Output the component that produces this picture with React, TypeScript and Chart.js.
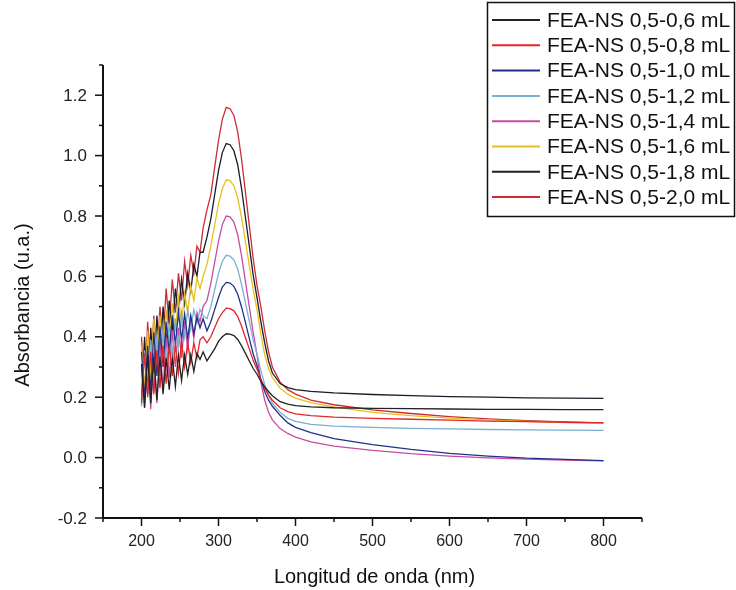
import React, { useEffect, useRef } from "react";
import { Chart, registerables } from "chart.js";

Chart.register(...registerables);

// Wavelength sampling (nm)
const WAVELENGTH = [
  200, 204, 208, 212, 216, 220, 224, 228, 232, 236, 240, 244, 248, 252, 256, 260, 264, 268, 272, 276, 280,
  285, 290, 295, 300, 305, 310, 315, 320, 325, 330, 335, 340, 345, 350, 355, 360, 365, 370,
  380, 390, 400, 420, 450, 500, 550, 600, 650, 700, 750, 800,
];

const LABELS = [
  "FEA-NS 0,5-0,6 mL",
  "FEA-NS 0,5-0,8 mL",
  "FEA-NS 0,5-1,0 mL",
  "FEA-NS 0,5-1,2 mL",
  "FEA-NS 0,5-1,4 mL",
  "FEA-NS 0,5-1,6 mL",
  "FEA-NS 0,5-1,8 mL",
  "FEA-NS 0,5-2,0 mL",
];

const COLORS = ["#222222", "#e3262a", "#22308c", "#7ab0d0", "#c94aa6", "#e6c21c", "#1c1c2a", "#cc2b35"];

const S06 = [
  0.31, 0.165, 0.34, 0.18, 0.335, 0.19, 0.335, 0.21, 0.33, 0.225, 0.33, 0.235, 0.34, 0.255, 0.34, 0.275, 0.34, 0.285, 0.345, 0.325, 0.35,
  0.32, 0.34, 0.36, 0.385, 0.4, 0.41, 0.409, 0.404, 0.391, 0.37, 0.345, 0.32, 0.295, 0.276, 0.253, 0.234, 0.219, 0.205,
  0.185, 0.177, 0.172, 0.168, 0.165, 0.163, 0.162, 0.161, 0.16, 0.16, 0.159, 0.159,
];
const S08 = [
  0.18, 0.345, 0.2, 0.35, 0.21, 0.355, 0.23, 0.37, 0.245, 0.37, 0.27, 0.375, 0.28, 0.385, 0.3, 0.38, 0.315, 0.38, 0.33, 0.39, 0.4,
  0.38, 0.4, 0.43, 0.46, 0.48, 0.495, 0.493, 0.486, 0.467, 0.435, 0.397, 0.36, 0.322, 0.293, 0.259, 0.23, 0.208, 0.19,
  0.165, 0.152, 0.145, 0.139, 0.134, 0.13, 0.127, 0.124, 0.121, 0.119, 0.117, 0.115,
];
const S10 = [
  0.35, 0.195, 0.37, 0.22, 0.415, 0.27, 0.435, 0.3, 0.45, 0.345, 0.47, 0.375, 0.48, 0.39, 0.475, 0.395, 0.47, 0.41, 0.465, 0.43, 0.46,
  0.42, 0.45, 0.49, 0.53, 0.565, 0.58, 0.578, 0.567, 0.541, 0.498, 0.447, 0.395, 0.344, 0.305, 0.258, 0.219, 0.19, 0.17,
  0.14, 0.115, 0.1, 0.083, 0.063, 0.043, 0.027, 0.014, 0.005, -0.002, -0.006, -0.01,
];
const S12 = [
  0.17, 0.355, 0.21, 0.39, 0.22, 0.405, 0.27, 0.425, 0.31, 0.445, 0.34, 0.46, 0.37, 0.48, 0.4, 0.49, 0.425, 0.49, 0.445, 0.49, 0.47,
  0.46, 0.5, 0.555, 0.61, 0.65, 0.67, 0.667, 0.655, 0.624, 0.573, 0.512, 0.451, 0.39, 0.344, 0.288, 0.242, 0.206, 0.18,
  0.15, 0.13, 0.12, 0.11, 0.104, 0.1, 0.097, 0.095, 0.093, 0.092, 0.091, 0.09,
];
const S14 = [
  0.3, 0.165, 0.35, 0.16, 0.345, 0.18, 0.38, 0.225, 0.4, 0.265, 0.42, 0.3, 0.43, 0.33, 0.45, 0.36, 0.46, 0.395, 0.48, 0.45, 0.5,
  0.52, 0.576, 0.646, 0.716, 0.772, 0.8, 0.797, 0.78, 0.737, 0.667, 0.583, 0.5, 0.415, 0.34, 0.25, 0.19, 0.15, 0.125,
  0.096, 0.08, 0.068, 0.052, 0.038, 0.024, 0.013, 0.005, -0.001, -0.005, -0.008, -0.011,
];
const S16 = [
  0.37, 0.215, 0.42, 0.265, 0.46, 0.305, 0.47, 0.345, 0.49, 0.375, 0.51, 0.415, 0.53, 0.44, 0.545, 0.48, 0.57, 0.52, 0.595, 0.56, 0.6,
  0.64, 0.7, 0.77, 0.84, 0.89, 0.92, 0.917, 0.9, 0.86, 0.795, 0.715, 0.636, 0.557, 0.49, 0.41, 0.34, 0.295, 0.265,
  0.23, 0.21, 0.197, 0.182, 0.168, 0.15, 0.139, 0.131, 0.125, 0.12, 0.116, 0.113,
];
const S18 = [
  0.19, 0.4, 0.21, 0.43, 0.28, 0.47, 0.33, 0.5, 0.37, 0.52, 0.42, 0.56, 0.47, 0.59, 0.51, 0.61, 0.55, 0.64, 0.6, 0.68, 0.68,
  0.73, 0.79, 0.87, 0.95, 1.01, 1.04, 1.036, 1.016, 0.969, 0.89, 0.795, 0.7, 0.605, 0.53, 0.45, 0.38, 0.32, 0.28,
  0.245, 0.232, 0.225, 0.219, 0.214, 0.209, 0.205, 0.202, 0.2, 0.198, 0.197, 0.196,
];
const S20 = [
  0.4, 0.2, 0.45, 0.28, 0.47, 0.31, 0.5, 0.37, 0.56, 0.44, 0.59, 0.48, 0.61, 0.52, 0.65, 0.57, 0.67, 0.61, 0.7, 0.68, 0.76,
  0.82, 0.87, 0.96, 1.05, 1.12, 1.16, 1.155, 1.133, 1.078, 0.987, 0.878, 0.769, 0.66, 0.57, 0.5, 0.42, 0.35, 0.3,
  0.25, 0.225, 0.21, 0.19, 0.175, 0.158, 0.146, 0.136, 0.128, 0.122, 0.118, 0.115,
];

const SERIES = [S06, S08, S10, S12, S14, S16, S18, S20];

const X_MAJOR = [200, 300, 400, 500, 600, 700, 800];
const X_MINOR = [150, 250, 350, 450, 550, 650, 750, 850];
const Y_MAJOR = [-0.2, 0.0, 0.2, 0.4, 0.6, 0.8, 1.0, 1.2];
const Y_MINOR = [-0.1, 0.1, 0.3, 0.5, 0.7, 0.9, 1.1, 1.3];

const X_TITLE = "Longitud de onda (nm)";
const Y_TITLE = "Absorbancia (u.a.)";

const FONT = "'Liberation Sans', Arial, sans-serif";

const decorPlugin = {
  id: "decor",
  afterDraw(chart: any) {
    const { ctx, chartArea, scales } = chart;
    const x = scales.x;
    const y = scales.y;
    ctx.save();
    ctx.strokeStyle = "#111";
    ctx.lineWidth = 2;
    // axis lines
    ctx.beginPath();
    ctx.moveTo(chartArea.left, chartArea.top);
    ctx.lineTo(chartArea.left, chartArea.bottom);
    ctx.lineTo(chartArea.right, chartArea.bottom);
    ctx.stroke();
    ctx.lineWidth = 1.5;
    const tick = (px: number, py: number, dx: number, dy: number) => {
      ctx.beginPath();
      ctx.moveTo(px, py);
      ctx.lineTo(px + dx, py + dy);
      ctx.stroke();
    };
    X_MAJOR.forEach((v) => tick(x.getPixelForValue(v), chartArea.bottom, 0, 8));
    X_MINOR.forEach((v) => tick(x.getPixelForValue(v), chartArea.bottom, 0, 4));
    Y_MAJOR.forEach((v) => tick(chartArea.left, y.getPixelForValue(v), -8, 0));
    Y_MINOR.forEach((v) => tick(chartArea.left, y.getPixelForValue(v), -4, 0));

    // tick labels
    ctx.fillStyle = "#222";
    ctx.textBaseline = "middle";
    ctx.font = `16px ${FONT}`;
    ctx.textAlign = "center";
    X_MAJOR.forEach((v) => ctx.fillText(String(v), x.getPixelForValue(v), 542));
    ctx.font = `17px ${FONT}`;
    ctx.textAlign = "right";
    Y_MAJOR.forEach((v) => ctx.fillText(v.toFixed(1), 87, y.getPixelForValue(v) + 1));

    // axis titles
    ctx.fillStyle = "#111";
    ctx.font = `20px ${FONT}`;
    ctx.textAlign = "center";
    ctx.textBaseline = "middle";
    ctx.fillText(X_TITLE, (chartArea.left + chartArea.right) / 2 + 2, 577);
    ctx.save();
    ctx.translate(23, 305);
    ctx.rotate(-Math.PI / 2);
    ctx.fillText(Y_TITLE, 0, 0);
    ctx.restore();

    // legend
    const bx = 487.5, by = 2.5, bw = 247, bh = 214;
    ctx.fillStyle = "#fff";
    ctx.fillRect(bx, by, bw, bh);
    ctx.strokeStyle = "#111";
    ctx.lineWidth = 1.5;
    ctx.strokeRect(bx, by, bw, bh);
    ctx.font = `21px ${FONT}`;
    ctx.textAlign = "left";
    ctx.textBaseline = "middle";
    LABELS.forEach((lab, i) => {
      const cy = 20 + 25.3 * i;
      ctx.strokeStyle = COLORS[i];
      ctx.lineWidth = 2;
      ctx.beginPath();
      ctx.moveTo(492, cy);
      ctx.lineTo(540, cy);
      ctx.stroke();
      ctx.fillStyle = "#111";
      ctx.fillText(lab, 547, cy + 1);
    });
    ctx.restore();
  },
};

export default function App() {
  const ref = useRef<HTMLCanvasElement | null>(null);
  useEffect(() => {
    document.body.style.margin = "0";
    const canvas = ref.current;
    if (!canvas) return;
    const chart = new Chart(canvas, {
      type: "line",
      data: {
        datasets: SERIES.map((s, i) => ({
          label: LABELS[i],
          data: WAVELENGTH.map((w, j) => ({ x: w, y: s[j] })),
          borderColor: COLORS[i],
          backgroundColor: COLORS[i],
          borderWidth: 1.3,
          pointRadius: 0,
          tension: 0,
          fill: false,
        })),
      },
      options: {
        animation: false,
        responsive: false,
        layout: { padding: { left: 0, top: 65, right: 94, bottom: 0 } },
        plugins: { legend: { display: false }, tooltip: { enabled: false } },
        scales: {
          x: {
            type: "linear",
            min: 150,
            max: 850,
            afterFit: (s: any) => {
              s.height = 72;
            },
            grid: { display: false },
            border: { display: false },
            ticks: { display: false },
          },
          y: {
            type: "linear",
            min: -0.2,
            max: 1.3,
            afterFit: (s: any) => {
              s.width = 103;
            },
            grid: { display: false },
            border: { display: false },
            ticks: { display: false },
          },
        },
      },
      plugins: [decorPlugin],
    });
    return () => chart.destroy();
  }, []);
  return (
    <div style={{ width: 736, height: 590, background: "#fff" }}>
      <canvas ref={ref} width={736} height={590} style={{ display: "block" }} />
    </div>
  );
}
